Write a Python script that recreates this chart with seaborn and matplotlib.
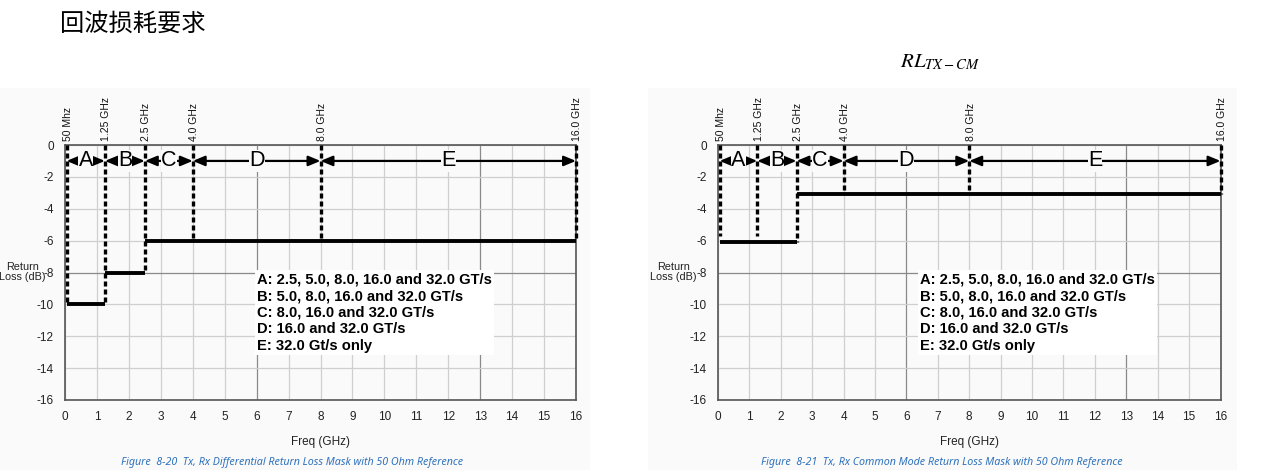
import numpy as np
import pandas as pd
import matplotlib
matplotlib.use("Agg")
import matplotlib.pyplot as plt
import seaborn as sns
from matplotlib.patches import Rectangle

# ---------------- data ----------------
page_title = "回波损耗要求"
cm_title = r"$RL_{TX-CM}$"
boundary_freqs = [0.05, 1.25, 2.5, 4.0, 8.0, 16.0]
boundary_labels = ["50 Mhz", "1.25 GHz", "2.5 GHz", "4.0 GHz", "8.0 GHz", "16.0 GHz"]
region_letters = ["A", "B", "C", "D", "E"]

diff_edges = [0.05, 1.25, 2.5, 16.0]
diff_levels = [-10, -8, -6]
diff_dash_bottoms = [-10, -10, -8, -6, -6, -6]

cm_edges = [0.05, 2.5, 16.0]
cm_levels = [-6.1, -3.1]
cm_dash_bottoms = [-5.7, -5.7, -6.1, -3.1, -3.1, -3.1]

legend_lines = [
    "A: 2.5, 5.0, 8.0, 16.0 and 32.0 GT/s",
    "B: 5.0, 8.0, 16.0 and 32.0 GT/s",
    "C: 8.0, 16.0 and 32.0 GT/s",
    "D: 16.0 and 32.0 GT/s",
    "E: 32.0 Gt/s only",
]
x_ticks = list(range(0, 17))
y_ticks = list(range(-16, 1, 2))
dark_x_grid = [6, 13]
dark_y_grid = [-8]
x_label = "Freq (GHz)"
y_label = "Return\nLoss (dB)"
captions = [
    "Figure  8-20  Tx, Rx Differential Return Loss Mask with 50 Ohm Reference",
    "Figure  8-21  Tx, Rx Common Mode Return Loss Mask with 50 Ohm Reference",
]

# ---------------- style ----------------
sns.set_theme(style="white")
plt.rcParams["font.family"] = ["Liberation Sans", "DejaVu Sans"]
plt.rcParams["axes.unicode_minus"] = False

W, H = 1264, 470
fig = plt.figure(figsize=(W / 100, H / 100), dpi=100)
fig.patch.set_facecolor("white")

panel_color = "#fafafa"
fig.patches.append(Rectangle((0 / W, 0), 590 / W, (H - 88) / H, transform=fig.transFigure,
                             facecolor=panel_color, edgecolor="none", zorder=-10))
fig.patches.append(Rectangle((648 / W, 0), (1237 - 648) / W, (H - 88) / H, transform=fig.transFigure,
                             facecolor=panel_color, edgecolor="none", zorder=-10))

def px_axes(x0, x1, ytop, ybot):
    return fig.add_axes([x0 / W, (H - ybot) / H, (x1 - x0) / W, (ybot - ytop) / H])

ax_l = px_axes(65, 576, 145, 400)
ax_r = px_axes(718, 1220.5, 145, 400)

def draw_panel(ax, edges, levels, dash_bottoms, legend_x, ylab_x):
    ax.set_facecolor(panel_color)
    ax.set_xlim(0, 16)
    ax.set_ylim(-16, 0)
    # grid
    for xv in x_ticks:
        c = "#8a8a8a" if xv in dark_x_grid else "#cfcfcf"
        ax.axvline(xv, color=c, lw=0.9, zorder=0)
    for yv in y_ticks:
        c = "#8a8a8a" if yv in dark_y_grid else "#cfcfcf"
        ax.axhline(yv, color=c, lw=0.9, zorder=0)
    # mask segments via seaborn
    rows = []
    for i, lv in enumerate(levels):
        rows.append({"seg": i, "freq": edges[i], "rl": lv})
        rows.append({"seg": i, "freq": edges[i + 1], "rl": lv})
    df = pd.DataFrame(rows)
    sns.lineplot(data=df, x="freq", y="rl", units="seg", estimator=None,
                 color="black", lw=2.8, ax=ax, zorder=4, solid_capstyle="butt")
    # dashed boundaries
    for f, b in zip(boundary_freqs, dash_bottoms):
        ax.plot([f, f], [0, b], color="black", lw=2.4, ls=(0, (1.5, 0.9)), zorder=5,
                clip_on=False)
    # arrows and letters
    for i, letter in enumerate(region_letters):
        a, b = boundary_freqs[i], boundary_freqs[i + 1]
        ax.annotate("", xy=(b, -1), xytext=(a, -1),
                    arrowprops=dict(arrowstyle="<|-|>,head_length=0.6,head_width=0.25",
                                    color="black", lw=1.6, shrinkA=0, shrinkB=0),
                    zorder=6)
        ax.text((a + b) / 2, -1, letter, ha="center", va="center", fontsize=15.5,
                color="black", zorder=7,
                bbox=dict(facecolor=panel_color, edgecolor="none", pad=0.2))
    # boundary labels on top
    for f, lab in zip(boundary_freqs, boundary_labels):
        ax.annotate(lab, xy=(f, 0), xytext=(1, 3), textcoords="offset points",
                    rotation=90, ha="center", va="bottom", fontsize=7.5, color="#111111",
                    annotation_clip=False)
    # legend text block
    ax.text(legend_x, -8.0, "\n".join(legend_lines), ha="left", va="top",
            fontsize=10.6, fontweight="bold", color="black", linespacing=1.24, zorder=8,
            bbox=dict(facecolor="white", edgecolor="none", pad=1.5))
    # ticks
    ax.set_xticks(x_ticks)
    ax.set_yticks(y_ticks)
    ax.set_xticklabels([str(v) for v in x_ticks])
    ax.set_yticklabels([str(v) for v in y_ticks])
    ax.tick_params(axis="both", length=0, labelsize=8.5, colors="#222222")
    ax.tick_params(axis="x", pad=8)
    ax.tick_params(axis="y", pad=8)
    for s in ax.spines.values():
        s.set_visible(True)
        s.set_color("#555555")
        s.set_linewidth(1.2)
    ax.set_xlabel(x_label, fontsize=8.5, color="#222222", labelpad=9)
    ax.set_ylabel("")
    ax.text(ylab_x, -8, y_label, ha="center", va="center", fontsize=7.8,
            color="#222222", linespacing=1.0, zorder=9, clip_on=False)

draw_panel(ax_l, diff_edges, diff_levels, diff_dash_bottoms, 6.0, -1.33)
draw_panel(ax_r, cm_edges, cm_levels, cm_dash_bottoms, 6.43, -1.42)

cap_family = ["Noto Sans", "DejaVu Sans"]
fig.text(292 / W, 1 - 462 / H, captions[0], ha="center", va="center", fontsize=7.7,
         style="italic", color="#2e72bd", family=cap_family)
fig.text(942 / W, 1 - 462 / H, captions[1], ha="center", va="center", fontsize=7.7,
         style="italic", color="#2e72bd", family=cap_family)

fig.text(60 / W, 1 - 24 / H, page_title, ha="left", va="center", fontsize=17.5,
         color="black", family=["Noto Sans CJK SC", "DejaVu Sans"])
fig.text(940 / W, 1 - 62 / H, cm_title, ha="center", va="center", fontsize=15,
         color="black", math_fontfamily="stix")

fig.savefig("out.png", dpi=100)
